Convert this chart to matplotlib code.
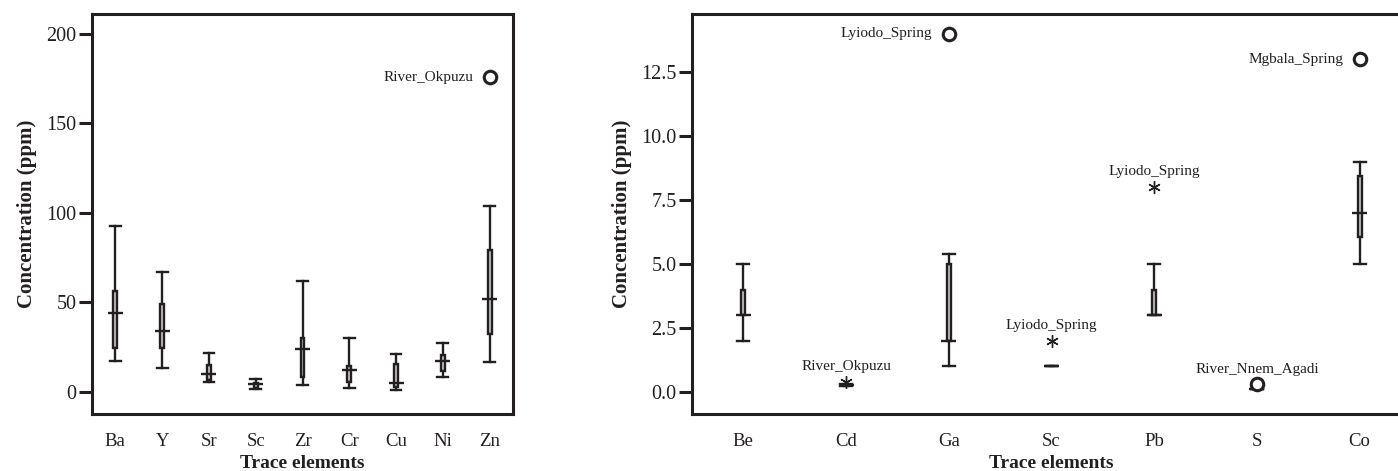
import numpy as np
import matplotlib.pyplot as plt
from matplotlib.ticker import FormatStrFormatter

# left panel: major trace elements
left_elements = ["Ba", "Y", "Sr", "Sc", "Zr", "Cr", "Cu", "Ni", "Zn"]
left_low = [17.5, 13.6, 5.4, 1.5, 3.9, 2.4, 1.1, 8.2, 16.9]
left_q1 = [24.8, 24.8, 6.7, 2.1, 8.6, 5.4, 3.0, 11.5, 32.6]
left_med = [44.0, 34.2, 9.9, 4.3, 24.0, 12.1, 4.8, 17.3, 51.8]
left_q3 = [56.6, 49.0, 15.0, 4.8, 30.3, 14.7, 15.6, 20.5, 79.3]
left_high = [92.7, 67.2, 21.6, 7.1, 62.2, 30.3, 21.2, 27.4, 104.0]
left_out_elem = ["Zn"]
left_out_val = [175.8]
left_out_label = ["River_Okpuzu"]
left_out_kind = ["o"]
left_label_side = ["left"]

# right panel: minor trace elements
right_elements = ["Be", "Cd", "Ga", "Sc", "Pb", "S", "Co"]
right_low = [2.0, 0.25, 1.0, 1.0, 3.0, 0.1, 5.0]
right_q1 = [3.0, 0.25, 2.0, 1.0, 3.0, 0.1, 6.05]
right_med = [3.0, 0.27, 2.0, 1.0, 3.0, 0.1, 7.0]
right_q3 = [4.0, 0.3, 5.0, 1.0, 4.0, 0.1, 8.45]
right_high = [5.0, 0.3, 5.4, 1.0, 5.0, 0.1, 9.0]
right_out_elem = ["Ga", "Cd", "Sc", "Pb", "S", "Co"]
right_out_val = [14.0, 0.4, 2.0, 8.0, 0.3, 13.0]
right_out_label = ["Lyiodo_Spring", "River_Okpuzu", "Lyiodo_Spring",
                   "Lyiodo_Spring", "River_Nnem_Agadi", "Mgbala_Spring"]
right_out_kind = ["o", "*", "*", "*", "o", "o"]
right_label_side = ["left", "above", "above", "above", "above", "left"]

INK = "#231f20"
FILL = "#cbcbcb"
LW = 1.7

plt.rcParams["font.family"] = ["Liberation Serif", "DejaVu Serif"]


def draw_panel(ax, names, low, q1, med, q3, high, box_w, cap_w, med_w):
    pos = np.arange(len(names))
    stats = []
    for a, b, c, d, e in zip(low, q1, med, q3, high):
        stats.append(dict(whislo=a, q1=b, med=c, q3=d, whishi=e))
    ax.bxp(stats, positions=pos, widths=box_w, capwidths=cap_w,
           patch_artist=True, showfliers=False,
           boxprops=dict(facecolor=FILL, edgecolor=INK, linewidth=LW),
           whiskerprops=dict(color=INK, linewidth=LW),
           capprops=dict(color=INK, linewidth=LW),
           medianprops=dict(visible=False))
    ax.hlines(med, pos - med_w / 2, pos + med_w / 2, color=INK, lw=LW, zorder=3)
    ax.set_xticks(pos)
    ax.set_xticklabels(names)
    ax.set_xlim(-0.5, len(names) - 0.5)


def draw_outliers(ax, names, elems, vals, labels, kinds, sides):
    for el, v, lab, k, side in zip(elems, vals, labels, kinds, sides):
        x = names.index(el)
        if k == "o":
            ax.plot(x, v, "o", ms=9, mfc="white", mec=INK, mew=2.2, zorder=4)
        else:
            ax.plot(x, v, marker=(6, 2, 0), ms=9, color=INK, mew=1.0, zorder=4)
        if side == "left":
            ax.annotate(lab, (x, v), xytext=(-12, 0), textcoords="offset points",
                        ha="right", va="center", fontsize=11, color=INK)
        else:
            ax.annotate(lab, (x, v), xytext=(0, 11), textcoords="offset points",
                        ha="center", va="center", fontsize=11, color=INK)


def style(ax):
    for sp in ax.spines.values():
        sp.set_linewidth(2.2)
        sp.set_color(INK)
    ax.tick_params(axis="y", length=9.5, width=2.2, pad=1.5, labelsize=14.5, colors=INK)
    ax.tick_params(axis="x", length=0, pad=14, labelsize=13.5, colors=INK)
    ax.set_xlabel("Trace elements", fontsize=14, fontweight="bold", color=INK, labelpad=3)
    ax.set_ylabel("Concentration (ppm)", fontsize=15, fontweight="bold", color=INK,
                  labelpad=7)


fig = plt.figure(figsize=(13.98, 4.71), dpi=100)

ax1 = fig.add_axes([92 / 1398, 1 - 414 / 471, 421 / 1398, 400 / 471])
draw_panel(ax1, left_elements, left_low, left_q1, left_med, left_q3, left_high,
           0.085, 0.23, 0.32)
draw_outliers(ax1, left_elements, left_out_elem, left_out_val, left_out_label,
              left_out_kind, left_label_side)
ax1.set_ylim(-12.3, 211)
ax1.set_yticks([0, 50, 100, 150, 200])
style(ax1)

ax2 = fig.add_axes([692 / 1398, 1 - 414 / 471, 719 / 1398, 400 / 471])
draw_panel(ax2, right_elements, right_low, right_q1, right_med, right_q3, right_high,
           0.04, 0.115, 0.145)
draw_outliers(ax2, right_elements, right_out_elem, right_out_val, right_out_label,
              right_out_kind, right_label_side)
ax2.set_ylim(-0.86, 14.77)
ax2.set_yticks([0, 2.5, 5, 7.5, 10, 12.5])
ax2.yaxis.set_major_formatter(FormatStrFormatter("%.1f"))
style(ax2)

fig.savefig("out.png", dpi=100)
